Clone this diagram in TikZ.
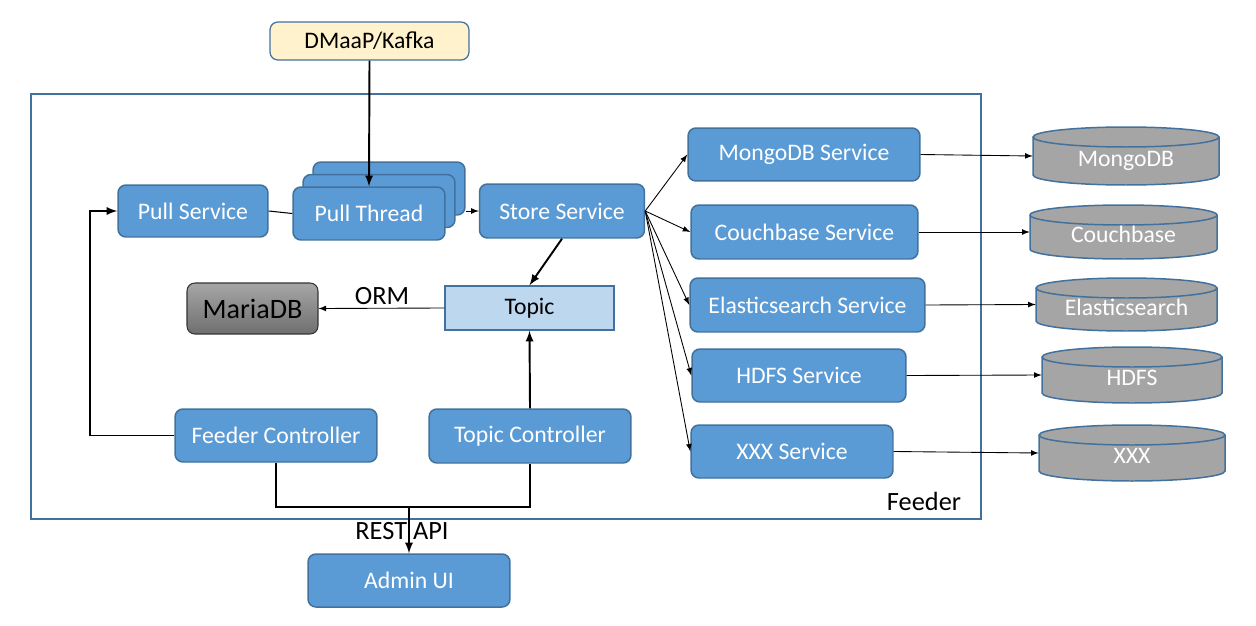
\documentclass[tikz,border=0pt]{standalone}
\usepackage{fontspec}
\setmainfont{Carlito}
\usepackage{tikz}
\usetikzlibrary{arrows.meta, positioning, shapes.geometric}
\definecolor{boxblue}{HTML}{5B9BD5}
\definecolor{edgeblue}{HTML}{41719C}
\definecolor{topicblue}{HTML}{BDD7EE}
\definecolor{kafkayellow}{HTML}{FFF2CC}
\definecolor{dbgray}{HTML}{A5A5A5}
\definecolor{mariatop}{HTML}{A6A6A6}
\definecolor{mariabot}{HTML}{6F6F6F}
\tikzset{
  svc/.style={draw=edgeblue, line width=0.85pt, fill=boxblue, rounded corners=4.5pt,
    text=white, font=\fontsize{13.5}{16}\selectfont, inner sep=0pt},
  dbshape/.style={draw=edgeblue, line width=0.85pt, fill=dbgray},
  dbname/.style={text=white, font=\fontsize{13.5}{16}\selectfont, inner sep=0pt,
    text height=12pt, text depth=0pt},
  link/.style={line width=0.5pt, -latex},
  wire/.style={line width=1.1pt}
}

\begin{document}
\begin{tikzpicture}[x=0.02cm, y=-0.02cm]
\useasboundingbox (0,0) rectangle (1256,625);
\draw[edgeblue, line width=0.85pt] (31,94) rectangle (981,519);
\node[font=\fontsize{15}{18}\selectfont] (feeder) at (924,501) {Feeder};
\node[draw=edgeblue, line width=0.7pt, fill=kafkayellow, rounded corners=4.5pt, inner sep=0pt,
  minimum width=3.98cm, minimum height=0.76cm, font=\fontsize{13.5}{16}\selectfont] (dm) at (369.5,41) {DMaaP/Kafka};
\node[svc, minimum width=3.00cm, minimum height=1.04cm] (ps) at (193,211) {Pull Service};
\node[svc, minimum width=3.04cm, minimum height=1.06cm] (pt3) at (389,188.5) {};
\node[svc, minimum width=3.04cm, minimum height=1.06cm] (pt2) at (379,201) {};
\node[svc, minimum width=3.04cm, minimum height=1.06cm] (pt1) at (369,213.5) {Pull Thread};
\node[svc, minimum width=3.30cm, minimum height=1.08cm] (ss) at (562,211) {Store Service};
\node[draw=edgeblue, line width=0.85pt, fill=topicblue, inner sep=0pt, minimum width=3.38cm,
  minimum height=0.88cm, font=\fontsize{13.5}{16}\selectfont] (tp) at (529.5,308) {Topic};
\node[draw=black!80, line width=0.6pt, top color=mariatop, bottom color=mariabot, rounded corners=4.5pt,
  inner sep=0pt, minimum width=2.62cm, minimum height=1.02cm, font=\fontsize{16}{19}\selectfont] (md) at (252.5,308.5) {MariaDB};
\node[font=\fontsize{15}{18}\selectfont] (orm) at (382,296) {ORM};
\node[svc, minimum width=4.04cm, minimum height=1.06cm] (fc) at (276,435.5) {Feeder Controller};
\node[svc, minimum width=4.04cm, minimum height=1.08cm] (tc) at (530,436) {Topic Controller};
\node[svc, minimum width=4.04cm, minimum height=1.06cm] (ui) at (409,580.5) {Admin UI};
\node[font=\fontsize{15}{18}\selectfont] (rest) at (402,531) {REST API};
\node[svc, minimum width=4.64cm, minimum height=1.06cm] (ms) at (804,154.5) {MongoDB Service};
\node[svc, minimum width=4.54cm, minimum height=1.08cm] (cs) at (804.5,232) {Couchbase Service};
\node[svc, minimum width=4.70cm, minimum height=1.08cm] (es) at (807.5,305) {Elasticsearch Service};
\node[svc, minimum width=4.28cm, minimum height=1.06cm] (hs) at (799,375.5) {HDFS Service};
\node[svc, minimum width=4.04cm, minimum height=1.06cm] (xs) at (792,451.5) {XXX Service};
\foreach \d/\x/\y/\r/\h/\t in {mdb/1126/156/93/58/MongoDB, cdb/1123.5/232/93.5/54/Couchbase,
    edb/1126.5/304.5/90.5/53/Elasticsearch, hdb/1132/375/90/56/HDFS, xdb/1132/453/93/56/XXX}{
  \draw[dbshape] ({\x-\r},{\y-\h/2+10}) -- ({\x-\r},{\y+\h/2-10})
    arc[start angle=180, end angle=360, x radius=\r*0.02cm, y radius=0.2cm]
    -- ({\x+\r},{\y-\h/2+10})
    arc[start angle=0, end angle=180, x radius=\r*0.02cm, y radius=0.2cm] -- cycle;
  \draw[edgeblue, line width=0.85pt] ({\x-\r},{\y-\h/2+10})
    arc[start angle=180, end angle=360, x radius=\r*0.02cm, y radius=0.2cm];
  \node[dbname, minimum width=2*\r*0.02cm, minimum height=\h*0.02cm] (\d) at (\x,\y) {\t};
}
\path coordinate (api) at (409,507);
\draw[wire, -latex] (dm.south) -- (pt1.north);
\draw[line width=0.6pt] (ps.east) -- (pt1.west);
\draw[link] (ss.west -| pt3.east) -- (ss.west);
\draw[wire, -latex] (ss.south) -- (tp.north);
\draw[link] (tp.west) -- (md.east);
\draw[wire, -latex] (tc.north) -- (tp.south);
\draw[wire, -latex] (fc.west) -- ++(-84,0) |- (ps.west);
\draw[wire] (fc.south) |- (api) -| (tc.south);
\draw[wire, -latex] (api) -- (ui.north);
\foreach \s in {ms,cs,es,hs,xs}
  \draw[link] (ss.east) -- (\s.west);
\draw[link] (ms.east) -- (mdb.west);
\draw[link] (cs.east) -- (cdb.west);
\draw[link] (es.east) -- (edb.west);
\draw[link] (hs.east) -- (hdb.west);
\draw[link] (xs.east) -- (xdb.west);
\end{tikzpicture}
\end{document}
